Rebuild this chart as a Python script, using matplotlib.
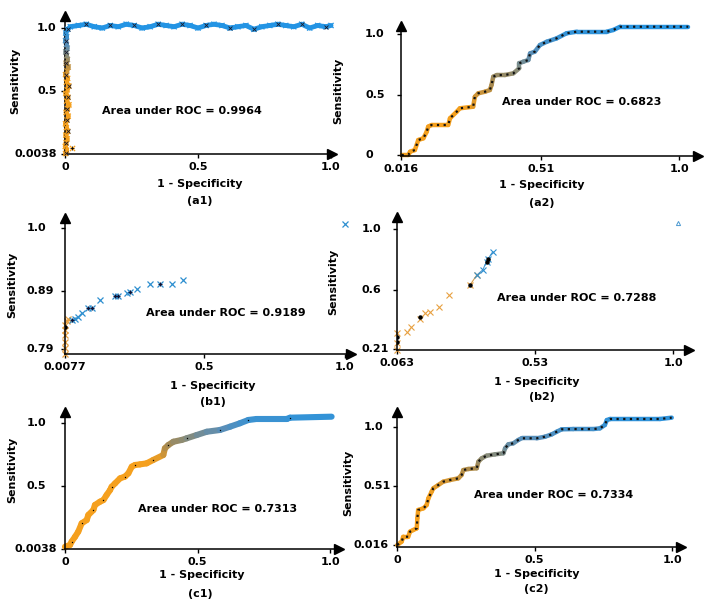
import numpy as np
import matplotlib
matplotlib.use("Agg")
import matplotlib.pyplot as plt
from matplotlib.collections import LineCollection
from matplotlib.colors import LinearSegmentedColormap
from matplotlib import transforms

plt.rcParams['font.family'] = ['DejaVu Sans']
plt.rcParams['font.weight'] = 'bold'

W, H = 721, 604
ORANGE = '#f5a01e'
BLUE = '#2394e4'
cmap = LinearSegmentedColormap.from_list('roc', [ORANGE, '#a88a50', '#5a8fb8', BLUE])

# ---- (a1) ----
a1_vert_fpr = [0.002, 0.006, 0.001, 0.004, 0.008, 0.003, 0.010, 0.005, 0.002, 0.007, 0.012, 0.004,
               0.009, 0.015, 0.006, 0.011, 0.003, 0.008, 0.014, 0.005, 0.010, 0.002, 0.007, 0.012,
               0.004, 0.009, 0.006, 0.003, 0.008, 0.005, 0.002, 0.006, 0.003, 0.010]
a1_vert_tpr = [0.004, 0.03, 0.06, 0.09, 0.12, 0.15, 0.18, 0.21, 0.24, 0.27, 0.30, 0.33,
               0.36, 0.39, 0.42, 0.45, 0.48, 0.51, 0.54, 0.57, 0.60, 0.63, 0.66, 0.69,
               0.72, 0.75, 0.78, 0.81, 0.84, 0.87, 0.90, 0.93, 0.96, 0.99]
a1_flat_fpr = [0.02, 0.05, 0.08, 0.11, 0.14, 0.17, 0.20, 0.23, 0.26, 0.29, 0.32, 0.35, 0.38, 0.41,
               0.44, 0.47, 0.50, 0.53, 0.56, 0.59, 0.62, 0.65, 0.68, 0.71, 0.74, 0.77, 0.80, 0.83,
               0.86, 0.89, 0.92, 0.95, 0.98, 1.0]
a1_flat_tpr = [1.01, 1.02, 1.03, 1.01, 1.00, 1.02, 1.01, 1.03, 1.02, 1.00, 1.01, 1.03, 1.02, 1.01,
               1.03, 1.02, 1.00, 1.02, 1.03, 1.02, 1.00, 1.01, 1.02, 0.99, 1.01, 1.02, 1.03, 1.02,
               1.01, 1.03, 1.00, 1.02, 1.01, 1.02]
a1_stray = ([0.025], [0.045])

# ---- (a2) ----
a2_fpr = [0.018, 0.042, 0.048, 0.065, 0.077, 0.095, 0.107, 0.112, 0.124, 0.183, 0.189, 0.213,
          0.224, 0.271, 0.277, 0.289, 0.313, 0.330, 0.336, 0.342, 0.354, 0.383, 0.413, 0.434,
          0.434, 0.448, 0.466, 0.472, 0.489, 0.507, 0.531, 0.566, 0.601, 0.637, 0.743, 0.766,
          0.790, 1.031]
a2_tpr = [0.0, 0.0, 0.027, 0.041, 0.124, 0.138, 0.193, 0.234, 0.248, 0.248, 0.303, 0.358,
          0.386, 0.399, 0.482, 0.510, 0.523, 0.537, 0.579, 0.647, 0.661, 0.661, 0.675, 0.717,
          0.758, 0.771, 0.785, 0.840, 0.854, 0.909, 0.936, 0.964, 1.006, 1.019, 1.019, 1.033,
          1.060, 1.060]

# ---- (b1) ----
b1_orange_fpr = [0.0077, 0.0077, 0.0077, 0.0077, 0.0077, 0.0077, 0.0137, 0.0195]
b1_orange_tpr = [0.782, 0.791, 0.803, 0.814, 0.823, 0.832, 0.839, 0.842]
b1_blue_fpr = [0.031, 0.043, 0.055, 0.067, 0.090, 0.102, 0.132, 0.185, 0.197, 0.226, 0.238,
               0.262, 0.309, 0.345, 0.386, 0.427, 1.0]
b1_blue_tpr = [0.840, 0.842, 0.846, 0.852, 0.861, 0.862, 0.875, 0.882, 0.882, 0.888, 0.889,
               0.894, 0.903, 0.903, 0.903, 0.910, 1.007]
b1_dark_idx = [0, 4, 5, 7, 8, 10, 13]
b1_dot = ([0.0077], [0.829])

# ---- (b2) ----
b2_orange_fpr = [0.064, 0.064, 0.064, 0.096, 0.110, 0.141, 0.158, 0.175, 0.207, 0.241, 0.311, 0.334]
b2_orange_tpr = [0.203, 0.248, 0.313, 0.324, 0.357, 0.407, 0.445, 0.455, 0.488, 0.565, 0.631, 0.697]
b2_blue_fpr = [0.334, 0.354, 0.367, 0.371, 0.388]
b2_blue_tpr = [0.697, 0.730, 0.784, 0.799, 0.850]
b2_dots_fpr = [0.064, 0.064, 0.141, 0.311, 0.367, 0.371]
b2_dots_tpr = [0.258, 0.291, 0.419, 0.631, 0.784, 0.799]
b2_far = ([1.018], [1.041])

# ---- (c1) ----
c1_fpr = [0.0, 0.019, 0.025, 0.038, 0.050, 0.063, 0.082, 0.088, 0.107, 0.113, 0.132, 0.145,
          0.157, 0.170, 0.176, 0.189, 0.208, 0.226, 0.239, 0.252, 0.264, 0.283, 0.308, 0.333,
          0.371, 0.377, 0.390, 0.409, 0.440, 0.459, 0.497, 0.535, 0.585, 0.623, 0.660, 0.692,
          0.723, 0.837, 0.849, 1.006]
c1_tpr = [0.018, 0.032, 0.058, 0.097, 0.137, 0.203, 0.229, 0.269, 0.308, 0.348, 0.374, 0.387,
          0.427, 0.466, 0.492, 0.519, 0.559, 0.572, 0.598, 0.651, 0.664, 0.669, 0.677, 0.704,
          0.743, 0.796, 0.822, 0.848, 0.862, 0.875, 0.901, 0.927, 0.941, 0.967, 0.994, 1.020,
          1.028, 1.028, 1.038, 1.046]

# ---- (c2) ----
c2_fpr = [0.001, 0.017, 0.023, 0.041, 0.047, 0.059, 0.072, 0.074, 0.077, 0.096, 0.108, 0.114,
          0.126, 0.132, 0.150, 0.168, 0.193, 0.223, 0.235, 0.241, 0.259, 0.290, 0.296, 0.308,
          0.326, 0.356, 0.387, 0.393, 0.405, 0.423, 0.441, 0.453, 0.508, 0.538, 0.563, 0.581,
          0.599, 0.641, 0.714, 0.738, 0.756, 0.763, 0.775, 0.956, 0.999]
c2_tpr = [0.016, 0.044, 0.085, 0.085, 0.127, 0.141, 0.155, 0.239, 0.308, 0.322, 0.350, 0.405,
          0.461, 0.489, 0.516, 0.544, 0.558, 0.572, 0.600, 0.641, 0.650, 0.656, 0.711, 0.739,
          0.761, 0.772, 0.781, 0.822, 0.856, 0.864, 0.892, 0.906, 0.906, 0.919, 0.939, 0.961,
          0.981, 0.983, 0.983, 0.989, 1.017, 1.058, 1.067, 1.067, 1.078]

areas = ['0.9964', '0.6823', '0.9189', '0.7288', '0.7313', '0.7334']

fig = plt.figure(figsize=(W / 100, H / 100), dpi=100)
fig.patch.set_facecolor('white')


def fx(px):
    return px / W


def fy(py):
    return 1 - py / H


def make_axes(left, right, bottom, top, x0, x0px, xs, y0, y0px, ys):
    ax = fig.add_axes([fx(left), fy(bottom), (right - left) / W, (bottom - top) / H])
    ax.set_xlim(x0 + (left - x0px) / xs, x0 + (right - x0px) / xs)
    ax.set_ylim(y0 - (bottom - y0px) / ys, y0 + (y0px - top) / ys)
    ax.patch.set_visible(False)
    ax.spines['top'].set_visible(False)
    ax.spines['right'].set_visible(False)
    ax.spines['left'].set_linewidth(1.1)
    ax.spines['bottom'].set_linewidth(1.1)
    ax.plot(1, 0, '>k', ms=7, transform=ax.transAxes, clip_on=False)
    ax.plot(0, 1, '^k', ms=7, transform=ax.transAxes, clip_on=False)
    return ax


def set_ticks(ax, axis_px, xt, xl, yt, yl, short_off):
    ax.set_xticks(xt)
    ax.set_xticklabels(xl, fontsize=8, fontweight='bold')
    ax.set_yticks(yt)
    ax.set_yticklabels([])
    ax.tick_params(length=3, width=1, pad=3)
    tr = transforms.blended_transform_factory(fig.transFigure, ax.transData)
    for v, lab in zip(yt, yl):
        if len(lab) > 4:
            ax.text(fx(axis_px - 8), v, lab, transform=tr, ha='right', va='center',
                    fontsize=8, fontweight='bold')
        else:
            ax.text(fx(axis_px - short_off), v, lab, transform=tr, ha='left', va='center',
                    fontsize=8, fontweight='bold')


def gradient_line(ax, x, y, lw, lo, hi):
    x = np.asarray(x)
    y = np.asarray(y)
    pts = np.column_stack([x, y])
    segs = np.stack([pts[:-1], pts[1:]], axis=1)
    t = np.clip(((y[:-1] + y[1:]) / 2 - lo) / (hi - lo), 0, 1)
    lc = LineCollection(segs, colors=cmap(t), linewidths=lw, capstyle='round',
                        joinstyle='round', clip_on=False)
    ax.add_collection(lc)
    return t


def labels(ylab_xy, xlab_xy, cap_xy, cap, area_xy, area):
    fig.text(fx(ylab_xy[0]), fy(ylab_xy[1]), 'Sensitivity', rotation=90, ha='center',
             va='center', fontsize=8, fontweight='bold')
    fig.text(fx(xlab_xy[0]), fy(xlab_xy[1]), '1 - Specificity', ha='center', va='center',
             fontsize=8, fontweight='bold')
    fig.text(fx(cap_xy[0]), fy(cap_xy[1]), cap, ha='center', va='center',
             fontsize=8, fontweight='bold')
    fig.text(fx(area_xy[0]), fy(area_xy[1]), 'Area under ROC = ' + area, ha='left',
             va='center', fontsize=8, fontweight='bold')


# (a1)
ax = make_axes(65, 332, 154, 16, 0, 65, 266, 0, 154, 126)
set_ticks(ax, 65, [0, 0.5, 1.0], ['0', '0.5', '1.0'], [0.0038, 0.5, 1.0],
          ['0.0038', '0.5', '1.0'], 28)
a1x = np.array(a1_vert_fpr + a1_flat_fpr)
a1y = np.array(a1_vert_tpr + a1_flat_tpr)
gradient_line(ax, a1x, a1y, 3.5, 0.6, 1.0)
tcol = np.clip((a1y - 0.6) / 0.4, 0, 1)
ax.scatter(a1x, a1y, marker='x', s=14, c=cmap(tcol), linewidths=0.9, clip_on=False, zorder=3)
ax.scatter(a1x[::3], a1y[::3], marker='x', s=8, c='#1a1a2a', linewidths=0.6, clip_on=False, zorder=4)
ax.scatter(*a1_stray, marker='x', s=14, c=ORANGE, linewidths=0.9, zorder=3)
ax.scatter(*a1_stray, marker='+', s=8, c='k', linewidths=0.6, zorder=4)
labels((15, 81), (200, 184), (200, 201), '(a1)', (102, 111), areas[0])

# (a2)
ax = make_axes(401, 698, 156, 26, 0.016, 401, 283, 0, 155, 121)
set_ticks(ax, 401, [0.016, 0.51, 1.0], ['0.016', '0.51', '1.0'], [0, 0.5, 1.0],
          ['0', '0.5', '1.0'], 36)
gradient_line(ax, a2_fpr, a2_tpr, 3.2, 0.38, 1.08)
ax.plot(a2_fpr, a2_tpr, color='#111111', lw=1.6, ls=(0, (1, 2)), clip_on=False)
labels((338, 91), (542, 185), (542, 203), '(a2)', (502, 102), areas[1])

# (b1)
ax = make_axes(65, 351, 354, 218, 0.0077, 65, 282, 0.79, 349, 576)
set_ticks(ax, 65, [0.0077, 0.5, 1.0], ['0.0077', '0.5', '1.0'], [0.79, 0.89, 1.0],
          ['0.79', '0.89', '1.0'], 38)
ax.plot(b1_blue_fpr[:4], b1_blue_tpr[:4], color='#5aa0d0', lw=0.8)
ax.plot(b1_orange_fpr, b1_orange_tpr, 'x', color='#e8a040', ms=4, mew=0.9, clip_on=False)
ax.plot(b1_blue_fpr, b1_blue_tpr, 'x', color='#2e8fd0', ms=4, mew=0.9, clip_on=False)
ax.plot([b1_blue_fpr[i] for i in b1_dark_idx], [b1_blue_tpr[i] for i in b1_dark_idx],
        '+', color='#111133', ms=3.5, mew=0.9)
ax.plot(*b1_dot, 'o', color='k', ms=2.2)
labels((12, 285), (213, 386), (213, 402), '(b1)', (146, 313), areas[2])

# (b2)
ax = make_axes(397, 689, 350, 217, 0.063, 397, 294.6, 0.21, 349, 152)
set_ticks(ax, 397, [0.063, 0.53, 1.0], ['0.063', '0.53', '1.0'], [0.21, 0.6, 1.0],
          ['0.21', '0.6', '1.0'], 35)
ax.plot(b2_orange_fpr[-2:], b2_orange_tpr[-2:], color='#d8a050', lw=0.8)
ax.plot(b2_blue_fpr, b2_blue_tpr, color='#4a98d0', lw=0.8)
ax.plot(b2_orange_fpr, b2_orange_tpr, 'x', color='#e8a040', ms=4.5, mew=0.8, clip_on=False)
ax.plot(b2_blue_fpr, b2_blue_tpr, 'x', color='#2e8fd0', ms=4.5, mew=0.8, clip_on=False)
ax.plot(b2_dots_fpr, b2_dots_tpr, 'o', color='k', ms=2.2)
ax.plot(*b2_far, '^', color='#4a98d0', ms=3, fillstyle='none', mew=0.7, clip_on=False)
labels((333, 282), (537, 382), (542, 397), '(b2)', (497, 298), areas[3])

# (c1)
ax = make_axes(65, 339, 549, 412, 0, 65, 265, 0, 549, 126.5)
set_ticks(ax, 65, [0, 0.5, 1.0], ['0', '0.5', '1.0'], [0.0038, 0.5, 1.0],
          ['0.0038', '0.5', '1.0'], 38)
gradient_line(ax, c1_fpr, c1_tpr, 4.4, 0.7, 1.08)
ax.plot(c1_fpr[2::3], c1_tpr[2::3], 's', color='k', ms=0.9, mew=0, clip_on=False)
labels((12, 470), (202, 575), (200, 594), '(c1)', (138, 509), areas[4])

# (c2)
ax = make_axes(397, 681, 547, 412, 0, 397, 275, 0.016, 545, 119.9)
set_ticks(ax, 397, [0, 0.5, 1.0], ['0', '0.5', '1.0'], [0.016, 0.51, 1.0],
          ['0.016', '0.51', '1.0'], 33)
gradient_line(ax, c2_fpr, c2_tpr, 3.2, 0.45, 1.12)
ax.plot(c2_fpr, c2_tpr, color='#111111', lw=1.6, ls=(0, (1, 2)), clip_on=False)
labels((348, 483), (537, 574), (536, 589), '(c2)', (474, 495), areas[5])

fig.savefig('out.png', dpi=100, facecolor='white')
